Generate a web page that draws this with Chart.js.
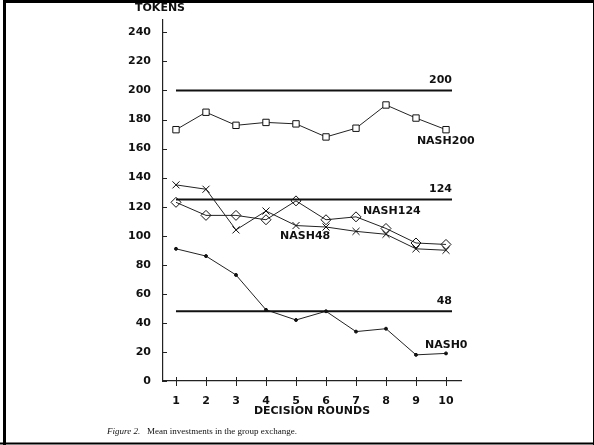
<!doctype html>
<html lang="en">
<head>
    <meta charset="UTF-8">
    <title>Mean investments in the group exchange</title>
    <script src="https://cdn.jsdelivr.net/npm/chart.js@4.4.1/dist/chart.umd.min.js"></script>
    <style>
        html, body {
            margin: 0;
            padding: 0;
            background: #fff;
        }
        #wrap {
            width: 594px;
            height: 445px;
            position: relative;
        }
    </style>
</head>
<body>
    <div id="wrap">
        <canvas id="myChart" width="594" height="445"></canvas>
    </div>
    <script>
        // decision rounds
        var rounds = [1, 2, 3, 4, 5, 6, 7, 8, 9, 10];
        // mean tokens invested
        var nash200 = [173, 185, 176, 178, 177, 168, 174, 190, 181, 173];
        var nash124 = [123, 114, 114, 111, 124, 111, 113, 105, 95, 94];
        var nash48 = [135, 132, 104, 117, 107, 106, 103, 101, 91, 90];
        var nash0 = [91, 86, 73, 49, 42, 48, 34, 36, 18, 19];
        // horizontal nash reference levels (drawn where they sit in the picture)
        var refLevels = [200, 125, 48];
        var refLabels = ['200', '124', '48'];
        var yTicks = [0, 20, 40, 60, 80, 100, 120, 140, 160, 180, 200, 220, 240];

        var FONT = 'DejaVu Sans';

        function pts(vals) {
            return vals.map(function (v, i) { return { x: rounds[i], y: v }; });
        }
        function refLine(v) {
            return {
                data: [{ x: 1, y: v }, { x: 10.2, y: v }],
                borderColor: '#111',
                borderWidth: 2,
                pointRadius: 0,
                fill: false
            };
        }
        function series(vals, style, r, bg) {
            return {
                data: pts(vals),
                borderColor: '#222',
                borderWidth: 1,
                pointStyle: style,
                pointRadius: r,
                pointBorderColor: '#111',
                pointBorderWidth: 1,
                pointBackgroundColor: bg,
                lineTension: 0,
                fill: false
            };
        }

        var frame = {
            id: 'frame',
            afterDraw: function (chart) {
                var c = chart.ctx;
                var xs = chart.scales.x, ys = chart.scales.y;
                c.save();
                // page border
                c.strokeStyle = '#000';
                c.lineWidth = 3;
                c.beginPath();
                c.moveTo(4.5, 445); c.lineTo(4.5, 1.5); c.lineTo(594, 1.5);
                c.stroke();
                c.lineWidth = 2;
                c.beginPath();
                c.moveTo(0, 443.5); c.lineTo(594, 443.5);
                c.stroke();
                c.lineWidth = 1;
                c.beginPath();
                c.moveTo(593.5, 0); c.lineTo(593.5, 445);
                c.stroke();

                // tick marks
                c.lineWidth = 1;
                c.strokeStyle = '#222';
                c.beginPath();
                yTicks.forEach(function (v) {
                    var y = Math.round(ys.getPixelForValue(v)) + 0.5;
                    c.moveTo(xs.left, y); c.lineTo(xs.left + 4, y);
                });
                rounds.forEach(function (r) {
                    var x = Math.round(xs.getPixelForValue(r)) + 0.5;
                    c.moveTo(x, ys.bottom - 4); c.lineTo(x, ys.bottom + 5);
                });
                c.stroke();

                // texts
                c.fillStyle = '#111';
                c.font = 'bold 11px ' + FONT;
                c.textBaseline = 'middle';
                c.textAlign = 'left';
                c.fillText('TOKENS', 135, 8);
                c.textAlign = 'center';
                c.fillText('DECISION ROUNDS', (xs.left + xs.right) / 2, 411);

                c.textAlign = 'right';
                refLevels.forEach(function (v, i) {
                    c.fillText(refLabels[i], xs.getPixelForValue(10.2), ys.getPixelForValue(v) - 10);
                });
                c.textAlign = 'left';
                c.fillText('NASH200', xs.getPixelForValue(9.03), ys.getPixelForValue(165));
                c.fillText('NASH124', xs.getPixelForValue(7.23), ys.getPixelForValue(117));
                c.fillText('NASH48', xs.getPixelForValue(4.47), ys.getPixelForValue(100));
                c.fillText('NASH0', xs.getPixelForValue(9.3), ys.getPixelForValue(25));

                // caption
                c.font = 'italic 9px "Liberation Serif"';
                c.fillText('Figure 2.', 107, 432);
                c.font = '9px "Liberation Serif"';
                c.fillText('Mean investments in the group exchange.', 147, 432);
                c.restore();
            }
        };

        var ctx = document.getElementById('myChart').getContext('2d');
        var chart = new Chart(ctx, {
            type: 'line',
            data: {
                datasets: [
                    refLine(refLevels[0]),
                    refLine(refLevels[1]),
                    refLine(refLevels[2]),
                    series(nash200, 'rect', 4.5, '#fff'),
                    series(nash124, 'rectRot', 5, 'rgba(255,255,255,0)'),
                    series(nash48, 'crossRot', 5, '#fff'),
                    series(nash0, 'circle', 1.5, '#111')
                ]
            },
            options: {
                responsive: false,
                animation: false,
                events: [],
                layout: { padding: { left: 0, right: 133, top: 20, bottom: 0 } },
                plugins: {
                    legend: { display: false },
                    tooltip: { enabled: false }
                },
                scales: {
                    x: {
                        type: 'linear',
                        min: 0.567,
                        max: 10.5,
                        afterFit: function (s) { s.height = 64; },
                        afterBuildTicks: function (s) {
                            s.ticks = rounds.map(function (v) { return { value: v }; });
                        },
                        grid: { display: false },
                        border: { display: true, color: '#222', width: 1.2 },
                        ticks: {
                            color: '#111',
                            padding: 6,
                            maxRotation: 0,
                            font: { family: FONT, weight: 'bold', size: 11 }
                        }
                    },
                    y: {
                        min: 0,
                        max: 248.5,
                        afterFit: function (s) { s.width = 163; },
                        afterBuildTicks: function (s) {
                            s.ticks = yTicks.map(function (v) { return { value: v }; });
                        },
                        grid: { display: false },
                        border: { display: true, color: '#222', width: 1.2 },
                        ticks: {
                            color: '#111',
                            padding: 4,
                            font: { family: FONT, weight: 'bold', size: 11 }
                        }
                    }
                }
            },
            plugins: [frame]
        });
    </script>
</body>
</html>
